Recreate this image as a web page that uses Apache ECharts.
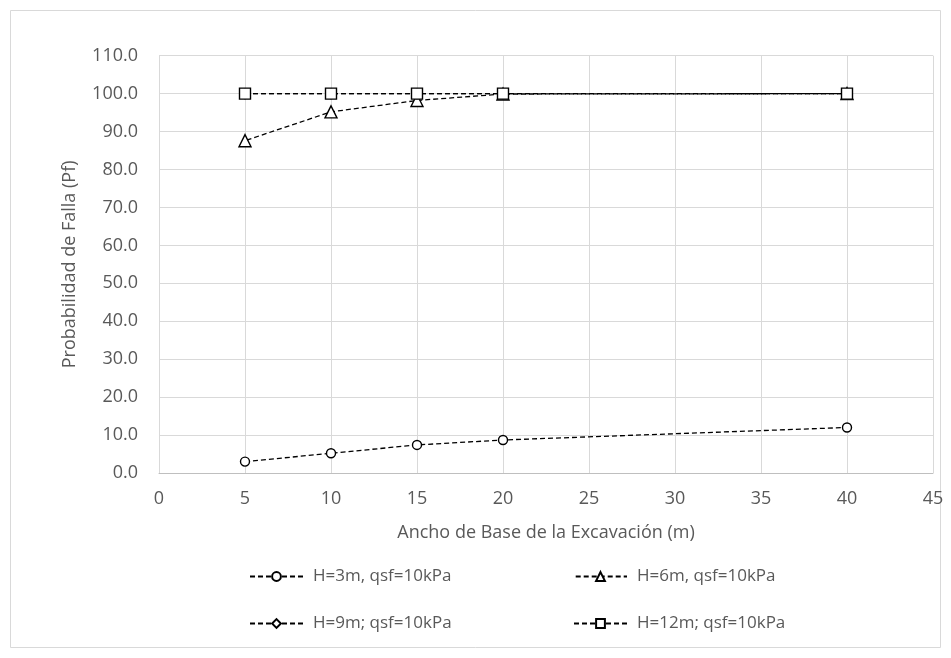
<!DOCTYPE html>
<html>
<head>
<meta charset="utf-8">
<script src="https://cdn.jsdelivr.net/npm/echarts@6/dist/echarts.min.js"></script>
<style>
  html, body { margin: 0; padding: 0; background: #fff; }
  #chart { width: 951px; height: 658px; }
</style>
</head>
<body>
<div id="chart"></div>
<script>
// Ancho de base (m)
const anchos = [5, 10, 15, 20, 40];

// Probabilidad de falla (%) por altura de excavación
const pfH3 = [3.0, 5.2, 7.4, 8.7, 12.0];
const pfH6 = [87.6, 95.2, 98.2, 99.9, 100.0];
const pfH9 = [100.0, 100.0, 100.0, 100.0, 100.0];
const pfH12 = [100.0, 100.0, 100.0, 100.0, 100.0];

const seriesNames = [
  'H=3m, qsf=10kPa',
  'H=6m, qsf=10kPa',
  'H=9m; qsf=10kPa',
  'H=12m; qsf=10kPa'
];

const FONT = 'Open Sans';
const TEXT = '#595959';

function pairs(xs, ys) {
  return xs.map((x, i) => [x, ys[i]]);
}

// dashOffset shifts a series' dash phase so overlapping lines interleave
function lineSeries(name, ys, symbol, size, dashOffset) {
  return {
    name: name,
    type: 'line',
    data: pairs(anchos, ys),
    symbol: symbol,
    symbolSize: size,
    showSymbol: true,
    lineStyle: { color: '#000', width: 1.3, type: [5, 3], dashOffset: dashOffset || 0 },
    itemStyle: { color: '#fff', borderColor: '#000', borderWidth: 1.4 },
    emphasis: { disabled: true },
    animation: false
  };
}

function legendAt(name, left, top) {
  return {
    data: [name],
    left: left,
    top: top,
    orient: 'horizontal',
    itemWidth: 53,
    itemHeight: 11,
    selectedMode: false,
    textStyle: { fontFamily: FONT, fontSize: 17, color: TEXT, padding: [0, 0, 0, 5] }
  };
}

const chart = echarts.init(document.getElementById('chart'), null, { renderer: 'canvas' });

chart.setOption({
  backgroundColor: '#fff',
  animation: false,
  graphic: [{
    type: 'rect',
    shape: { x: 10.5, y: 10.5, width: 930, height: 637 },
    style: { fill: 'none', stroke: '#d9d9d9', lineWidth: 1 },
    silent: true
  }],
  grid: { left: 159, right: 18, top: 55.7, bottom: 185 },
  xAxis: {
    type: 'value',
    min: 0,
    max: 45,
    interval: 5,
    name: 'Ancho de Base de la Excavación (m)',
    nameLocation: 'middle',
    nameGap: 51,
    nameTextStyle: { fontFamily: FONT, fontSize: 18, color: TEXT },
    axisLine: { show: true, lineStyle: { color: '#bfbfbf', width: 1 } },
    axisTick: { show: false },
    axisLabel: { fontFamily: FONT, fontSize: 18, color: TEXT, margin: 17 },
    splitLine: { show: true, lineStyle: { color: '#d9d9d9', width: 1 } }
  },
  yAxis: {
    type: 'value',
    min: 0,
    max: 110,
    interval: 10,
    name: 'Probabilidad de Falla (Pf)',
    nameLocation: 'middle',
    nameGap: 80,
    nameTextStyle: { fontFamily: FONT, fontSize: 18, color: TEXT },
    axisLine: { show: false },
    axisTick: { show: false },
    axisLabel: {
      fontFamily: FONT, fontSize: 18, color: TEXT, margin: 21,
      formatter: v => v.toFixed(1)
    },
    splitLine: { show: true, lineStyle: { color: '#d9d9d9', width: 1 } }
  },
  legend: [
    legendAt(seriesNames[0], 244, 563),
    legendAt(seriesNames[1], 568, 563),
    legendAt(seriesNames[2], 244, 610),
    legendAt(seriesNames[3], 568, 610)
  ],
  series: [
    lineSeries(seriesNames[0], pfH3, 'circle', 9),
    lineSeries(seriesNames[1], pfH6, 'triangle', 12, 6.3),
    lineSeries(seriesNames[2], pfH9, 'diamond', 10),
    lineSeries(seriesNames[3], pfH12, 'rect', 11)
  ]
});
</script>
</body>
</html>
